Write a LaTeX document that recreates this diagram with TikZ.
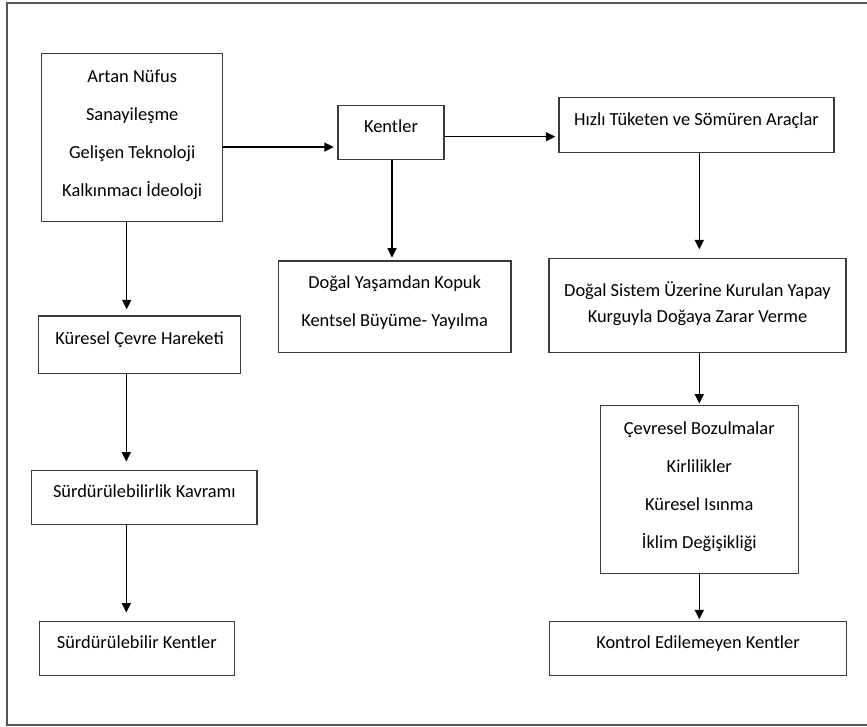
\documentclass[tikz,border=0pt]{standalone}
\usepackage{fontspec}
\setmainfont{Carlito}
\usetikzlibrary{arrows.meta}
\definecolor{boxline}{HTML}{3A3A3A}
\definecolor{frameline}{HTML}{555555}
\tikzset{
  box/.style={draw=boxline, line width=1.4pt, inner sep=0pt, align=center,
    font=\fontsize{18.4}{38}\selectfont, text=black},
  one/.style={text height=12pt, text depth=12pt},
  multi/.style={text depth=9pt},
  arr/.style={draw=black, line width=1.4pt, -{Triangle[length=9.5pt,width=9pt]}},
}
\begin{document}
\begin{tikzpicture}[x=1pt,y=-1pt]
\useasboundingbox (0,0) rectangle (867,726);
\draw[frameline, line width=2pt] (867,2.5) -- (7.3,2.5) -- (7.3,724.5) -- (867,724.5);

\node[box, multi, minimum width=181pt, minimum height=168pt] (b1) at (132.2,137.7)
  {Artan Nüfus\\Sanayileşme\\Gelişen Teknoloji\\Kalkınmacı İdeoloji};
\node[box, one, minimum width=106pt, minimum height=53.6pt] (k) at (391,132.5) {Kentler};
\node[box, one, minimum width=275pt, minimum height=54.6pt] (h) at (696.5,125) {Hızlı Tüketen ve Sömüren Araçlar};
\node[box, multi, text depth=11pt, minimum width=232.7pt, minimum height=91.7pt] (dy) at (394.65,306.85)
  {Doğal Yaşamdan Kopuk\\Kentsel Büyüme- Yayılma};
\node[box, multi, text depth=6.5pt, minimum width=297pt, minimum height=94.4pt, font=\fontsize{18.4}{25.7}\selectfont] (ds) at (697.5,305.5)
  {Doğal Sistem Üzerine Kurulan Yapay\\Kurguyla Doğaya Zarar Verme};
\node[box, one, minimum width=201.6pt, minimum height=57.3pt] (kc) at (139.5,344.65) {Küresel Çevre Hareketi};
\node[box, one, minimum width=225.3pt, minimum height=54pt] (sk) at (144.35,497.7) {Sürdürülebilirlik Kavramı};
\node[box, one, minimum width=195pt, minimum height=53.6pt] (sn) at (136.8,648.5) {Sürdürülebilir Kentler};
\node[box, multi, minimum width=198pt, minimum height=167.6pt] (cb) at (699.3,489.5)
  {Çevresel Bozulmalar\\Kirlilikler\\Küresel Isınma\\İklim Değişikliği};
\node[box, one, minimum width=296.6pt, minimum height=53.6pt] (ko) at (698,648.5) {Kontrol Edilemeyen Kentler};

% horizontal arrows
\coordinate (a1) at ([yshift=-9.4pt]b1.east);
\draw[arr, shorten >=3.5pt] (a1) -- (a1 -| k.west);
\coordinate (a2) at ([yshift=-4.2pt]k.east);
\draw[arr, shorten >=3pt] (a2) -- (a2 -| h.west);

% vertical arrows
\coordinate (v1) at ([xshift=-5.5pt]b1.south);
\draw[arr, shorten >=6pt] (v1) -- (v1 |- kc.north);
\coordinate (v2) at ([xshift=-13.2pt]kc.south);
\draw[arr, shorten >=8.4pt] (v2) -- (v2 |- sk.north);
\coordinate (v3) at ([xshift=-18pt]sk.south);
\draw[arr, shorten >=8.4pt] (v3) -- (v3 |- sn.north);
\coordinate (v4) at ([xshift=1pt]k.south);
\draw[arr, shorten >=2.7pt] (v4) -- (v4 |- dy.north);
\coordinate (v5) at ([xshift=2.8pt]h.south);
\draw[arr, shorten >=8.3pt] (v5) -- (v5 |- ds.north);
\coordinate (v6) at ([xshift=1.8pt]ds.south);
\draw[arr, shorten >=1.4pt] (v6) -- (v6 |- cb.north);
\coordinate (v7) at (cb.south);
\draw[arr, shorten >=1.7pt] (v7) -- (v7 |- ko.north);
\end{tikzpicture}
\end{document}
